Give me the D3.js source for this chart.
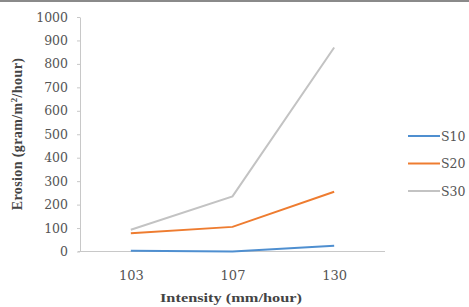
<!DOCTYPE html>
<html>
<head>
<meta charset="utf-8">
<script src="https://cdn.jsdelivr.net/npm/d3@7"></script>
<style>
  body { margin: 0; background: #fff; }
  svg { display: block; }
</style>
</head>
<body>
<div id="chart"></div>
<script>
// Data
var intensities = ["103", "107", "130"];
var seriesNames = ["S10", "S20", "S30"];
var s10 = [3, 0, 25];
var s20 = [78, 105, 255];
var s30 = [93, 235, 870];
var yTicks = [0, 100, 200, 300, 400, 500, 600, 700, 800, 900, 1000];

var colors = ["#4f8fd0", "#ee7c30", "#c3c3c3"];

var w = 469, h = 307;
var svg = d3.select("#chart").append("svg")
	.attr("width", w)
	.attr("height", h);

// frame line at the very top
svg.append("rect")
	.attr("x", 0).attr("y", 0)
	.attr("width", w).attr("height", 2)
	.attr("fill", "#8a8a8a");

var x = d3.scalePoint().domain(intensities).range([80, 385]).padding(0.5);
var y = d3.scaleLinear().domain([0, 1000]).range([251.5, 17]);

// Y axis
var yAxis = svg.append("g")
	.attr("transform", "translate(80,0)")
	.call(d3.axisLeft(y).tickValues(yTicks).tickFormat(d3.format("d"))
		.tickSizeInner(3).tickSizeOuter(0).tickPadding(9));
yAxis.select(".domain").attr("stroke", "#c8c8c8");
yAxis.selectAll(".tick line").attr("stroke", "#c8c8c8");
yAxis.selectAll("text")
	.attr("font-family", "DejaVu Serif")
	.attr("font-size", "12.5px")
	.attr("fill", "#555");

// X axis
var xAxis = svg.append("g")
	.attr("transform", "translate(0,251.5)")
	.call(d3.axisBottom(x).tickSize(0).tickPadding(19));
xAxis.select(".domain").attr("stroke", "#c8c8c8").attr("d", "M78,0H385");
xAxis.selectAll("text")
	.attr("font-family", "DejaVu Serif")
	.attr("font-size", "13px")
	.attr("fill", "#555");

// Axis titles
svg.append("text")
	.attr("x", 231).attr("y", 302)
	.attr("text-anchor", "middle")
	.attr("font-family", "Liberation Serif")
	.attr("font-weight", "bold")
	.attr("font-size", "13px")
	.attr("fill", "#444")
	.attr("textLength", 142)
	.attr("lengthAdjust", "spacingAndGlyphs")
	.text("Intensity (mm/hour)");

var yTitle = svg.append("text")
	.attr("transform", "translate(22,134) rotate(-90)")
	.attr("text-anchor", "middle")
	.attr("font-family", "Liberation Serif")
	.attr("font-weight", "bold")
	.attr("font-size", "14px")
	.attr("letter-spacing", "0.4px")
	.attr("fill", "#444");
yTitle.append("tspan").text("Erosion (gram/m");
yTitle.append("tspan").attr("font-size", "9px").attr("dy", "-5").text("2");
yTitle.append("tspan").attr("dy", "5").text("/hour)");

// Lines
var data = [s10, s20, s30];
var line = d3.line()
	.x(function(d, i){ return x(intensities[i]); })
	.y(function(d){ return y(d); });

svg.selectAll("path.series")
	.data(data)
	.enter()
	.append("path")
	.attr("class", "series")
	.attr("fill", "none")
	.attr("stroke", function(d, i){ return colors[i]; })
	.attr("stroke-width", 2)
	.attr("d", line);

// Legend
var legend = svg.append("g").attr("transform", "translate(408,136)");
legend.selectAll("line")
	.data(seriesNames)
	.enter()
	.append("line")
	.attr("x1", 0).attr("x2", 32)
	.attr("y1", function(d, i){ return i * 27.5; })
	.attr("y2", function(d, i){ return i * 27.5; })
	.attr("stroke", function(d, i){ return colors[i]; })
	.attr("stroke-width", 2);
legend.selectAll("text")
	.data(seriesNames)
	.enter()
	.append("text")
	.attr("x", 33)
	.attr("y", function(d, i){ return i * 27.5 + 4.5; })
	.attr("font-family", "DejaVu Serif")
	.attr("font-size", "12.5px")
	.attr("fill", "#555")
	.text(function(d){ return d; });
</script>
</body>
</html>
